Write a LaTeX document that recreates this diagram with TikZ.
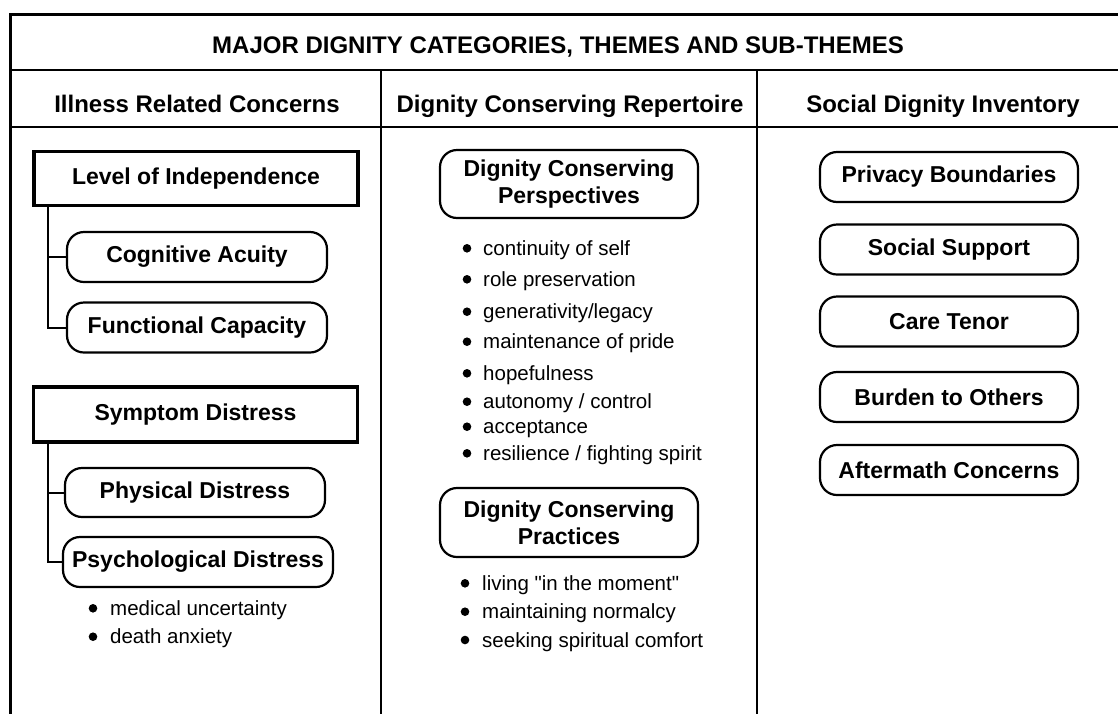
\documentclass[tikz,border=0pt]{standalone}
\usepackage{fontspec}
\setmainfont{Liberation Sans}
\newfontfamily\itemfont{Liberation Sans}
\usepackage{tikz}
\usetikzlibrary{positioning}

\begin{document}
\begin{tikzpicture}[x=1pt,y=-1pt,
    hdr/.style={font=\fontsize{24}{28}\selectfont\bfseries, anchor=base, inner sep=0pt},
    themebox/.style={draw, line width=3.2pt, minimum width=324pt, minimum height=54pt,
        font=\fontsize{23}{27}\selectfont\bfseries, inner sep=2pt},
    subbox/.style={draw, line width=2.2pt, rounded corners=17pt, minimum width=260pt,
        minimum height=50pt, font=\fontsize{23}{27}\selectfont\bfseries, align=center, inner sep=2pt},
    itm/.style={anchor=base west, font=\itemfont\fontsize{20.5}{24}\selectfont, inner sep=0pt},
    twig/.style={line width=2pt}]
            \useasboundingbox (0,0) rectangle (1118,713);
            \clip (0,0) rectangle (1118,713);
            % frame and rules
            \draw[line width=3pt] (10,760) -- (10,14) -- (1160,14);
            \draw[line width=2pt] (10,70) -- (1160,70);
            \draw[line width=2pt] (10,127) -- (1160,127);
            \draw[line width=2pt] (381,70) -- (381,760);
            \draw[line width=2pt] (757,70) -- (757,760);
            % headings
            \node[hdr] (title) at (558,53) {MAJOR DIGNITY CATEGORIES, THEMES AND SUB-THEMES};
            \node[hdr] (illness) at (197,112) {Illness Related Concerns};
            \node[hdr] (repertoire) at (570,112) {Dignity Conserving Repertoire};
            \node[hdr] (inventory) at (943,112) {Social Dignity Inventory};
            % illness related concerns
            \node[themebox] (lvl) at (196,178.5) {Level of Independence};
            \node[subbox] (cog) at (197,257) {Cognitive Acuity};
            \node[subbox] (func) at (197,327.5) {Functional Capacity};
            \node[themebox, minimum height=55pt] (sym) at (195.5,414.5) {Symptom Distress};
            \node[subbox, minimum height=49pt] (phys) at (195,492.5) {Physical Distress};
            \node[subbox, minimum width=270pt] (psych) at (198,562) {Psychological Distress};
            \coordinate (lvltrunk) at ([xshift=16pt]lvl.south west);
            \coordinate (symtrunk) at ([xshift=16pt]sym.south west);
            \draw[twig] (lvltrunk) |- (cog.west);
            \draw[twig] (lvltrunk) |- (func.west);
            \draw[twig] (symtrunk) |- (phys.west);
            \draw[twig] (symtrunk) |- (psych.west);
            \foreach \y/\t [count=\i] in {608.3/medical uncertainty, 636.7/death anxiety}{
                \fill (93,\y) circle (4.3pt);
                \node[itm] (psy\i) at (110,\y+7) {\t};
            }
            % dignity conserving repertoire
            \node[subbox, minimum width=258pt, minimum height=68pt] (persp) at (569,184) {Dignity Conserving\\Perspectives};
            \foreach \y/\t [count=\i] in {248.3/continuity of self, 279.3/role preservation,
                311.7/{generativity/legacy}, 341.7/maintenance of pride, 373.3/hopefulness,
                401.7/{autonomy / control}, 426.7/acceptance, 453.3/{resilience / fighting spirit}}{
                \fill (467,\y) circle (4.3pt);
                \node[itm] (persp\i) at (483,\y+7) {\t};
            }
            \node[subbox, minimum width=258pt, minimum height=69pt] (pract) at (569,522.5) {Dignity Conserving\\Practices};
            \foreach \y/\t [count=\i] in {583.3/living "in the moment", 611.7/maintaining normalcy,
                640/seeking spiritual comfort}{
                \fill (465,\y) circle (4.3pt);
                \node[itm] (pract\i) at (482,\y+7) {\t};
            }
            % social dignity inventory
            \node[subbox, minimum width=258pt] (privacy) at (949,177) {Privacy Boundaries};
            \node[subbox, minimum width=258pt] (support) at (949,249.5) {Social Support};
            \node[subbox, minimum width=258pt] (tenor) at (949,321.5) {Care Tenor};
            \node[subbox, minimum width=258pt] (burden) at (949,397) {Burden to Others};
            \node[subbox, minimum width=258pt] (aftermath) at (949,470) {Aftermath Concerns};
        \end{tikzpicture}
\end{document}
